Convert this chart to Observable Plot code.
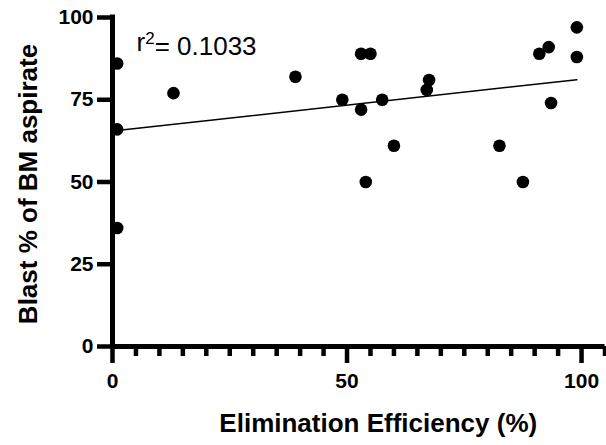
<!DOCTYPE html>
<html>
<head>
<meta charset="utf-8">
<script src="https://cdn.jsdelivr.net/npm/d3@7"></script>
<script src="https://cdn.jsdelivr.net/npm/@observablehq/plot@0.6"></script>
<style>
  html, body { margin: 0; padding: 0; background: #fff; }
  #chart svg { display: block; }
</style>
</head>
<body>
<div id="chart"></div>
<script>
// Elimination efficiency (%) per sample
const efficiency = [1, 1, 1, 13, 39, 49, 53, 55, 53, 57.5, 60, 54, 67.5, 67, 82.5, 87.5, 91, 93, 93.5, 99, 99];
// Blast % of BM aspirate per sample
const blast =      [86, 66, 36, 77, 82, 75, 89, 89, 72, 75, 61, 50, 81, 78, 61, 50, 89, 91, 74, 97, 88];

const xMajorTicks = [0, 50, 100];
const xMinorTicks = [5, 10, 15, 20, 25, 30, 35, 40, 45, 55, 60, 65, 70, 75, 80, 85, 90, 95, 105];
const yTicks = [0, 25, 50, 75, 100];

const xTitle = "Elimination Efficiency (%)";
const yTitle = "Blast % of BM aspirate";
const r2Parts = ["r", "2", "= 0.1033"];

const data = efficiency.map((e, i) => ({efficiency: e, blast: blast[i]}));

const font = "'Liberation Sans', Arial, Helvetica, sans-serif";

const chart = Plot.plot({
  width: 606,
  height: 445,
  marginLeft: 112,
  marginRight: 1.5,
  marginTop: 17,
  marginBottom: 99,
  style: {fontFamily: font, background: "#fff", color: "#000"},
  x: {domain: [0, 105]},
  y: {domain: [0, 100]},
  marks: [
    Plot.dot(data, {x: "efficiency", y: "blast", r: 6.3, fill: "black", stroke: "none"}),
    Plot.linearRegressionY(data, {x: "efficiency", y: "blast", ci: 0, stroke: "black", strokeWidth: 1.5}),
    // minor x ticks
    Plot.axisX({ticks: xMinorTicks, tickSize: 10, stroke: "black", strokeWidth: 4.5, text: null, label: null}),
    // major x ticks + labels
    Plot.axisX({ticks: xMajorTicks, tickSize: 17, tickPadding: 10, stroke: "black", strokeWidth: 4.5,
                fontSize: 21, fontWeight: "bold", label: null}),
    Plot.axisY({ticks: yTicks, tickSize: 15, tickPadding: 4, stroke: "black", strokeWidth: 4.5,
                fontSize: 21, fontWeight: "bold", label: null}),
    Plot.ruleY([0], {stroke: "black", strokeWidth: 5}),
    Plot.ruleX([0], {stroke: "black", strokeWidth: 5, strokeLinecap: "square"}),
    Plot.text([r2Parts.join("")], {frameAnchor: "top-left", dx: 24, dy: 15, lineAnchor: "top",
                          textAnchor: "start", fontSize: 26, fill: "black", className: "r2label"}),
    Plot.text([xTitle], {frameAnchor: "bottom", dx: 19.5, dy: 67, lineAnchor: "top", textAnchor: "middle",
                         fontSize: 26, fontWeight: "bold", fill: "black"}),
    Plot.text([yTitle], {frameAnchor: "left", dx: -94, dy: 2, rotate: -90, lineAnchor: "top", textAnchor: "middle",
                         fontSize: 26, fontWeight: "bold", fill: "black"})
  ]
});

// rebuild r² label with a real superscript
const t = d3.select(chart).select("g.r2label text");
if (!t.empty()) {
  t.text(null);
  t.append("tspan").text(r2Parts[0]);
  t.append("tspan").attr("dy", "-0.42em").attr("font-size", "17").text(r2Parts[1]);
  t.append("tspan").attr("dy", "0.42em").text(r2Parts[2]);
}
document.getElementById("chart").appendChild(chart);
</script>
</body>
</html>
